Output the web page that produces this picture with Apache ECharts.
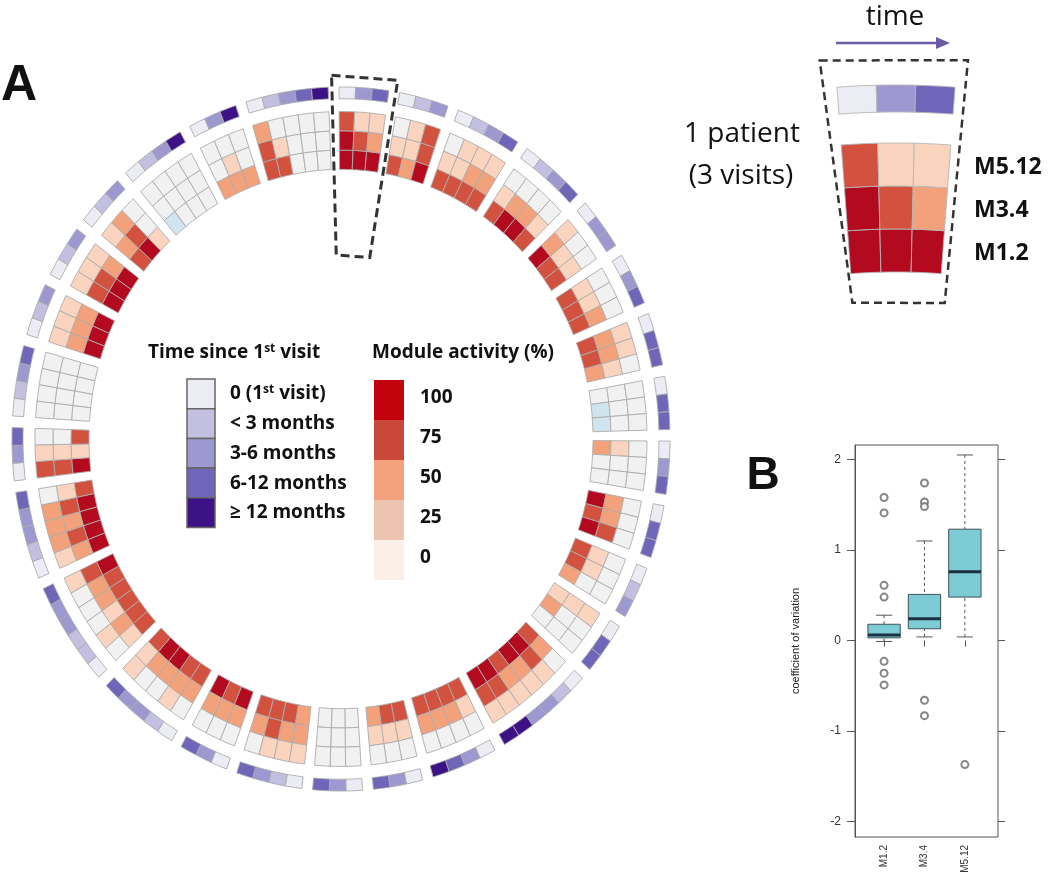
<!DOCTYPE html>
<html><head><meta charset="utf-8">
<script src="https://cdn.jsdelivr.net/npm/echarts@6/dist/echarts.min.js"></script>
<style>html,body{margin:0;padding:0;background:#fff}#c{width:1050px;height:892px}</style>
</head><body><div id="c"></div>
<script>
// ---------------- DATA ----------------
// patients clockwise from 12 o'clock; visits in time order (clockwise)
const patientVisits = [3,3,4,4,3,3,3,3,3,3,3,3,6,4,3,3,4,3,5,6,5,3,4,3,3,3,4,3,5];
// time since first visit category: 0=1st visit,1=<3m,2=3-6m,3=6-12m,4=>=12m
const timeCategory = [
  [0,2,3],[0,1,2],[0,1,2,3],[0,1,2,3],[0,2,2],[0,2,3],[0,3,3],[0,3,3],[0,2,3],[0,3,3],
  [0,1,2],[0,3,3],[0,1,2,2,4,4],[0,2,3,4],[0,2,3],[0,2,3],[0,1,2,3],[0,2,3],[0,1,2,2,3],[0,1,1,2,2,3],
  [0,1,2,2,3],[0,2,3],[0,1,2,3],[0,1,2],[0,1,2],[0,1,2],[0,1,2,4],[0,2,4],[0,1,2,3,4]
];
// module activity (%), negative = below baseline
const actM12 = [
  [100,100,100],[75,50,100],[75,75,75,75],[75,100,100,75],[100,75,75],[75,75,75],[75,75,50],[0,-25,-25],[50,0,0],[100,75,100],
  [75,75,50],[25,50,0],[75,100,100,75,100,100],[75,75,75,75],[75,75,50],[0,0,0],[50,75,75,75],[100,75,100],[75,75,100,100,75],[75,75,75,75,75,100],
  [100,100,100,100,75],[100,25,75],[0,0,0,0],[100,100,100],[100,100,100],[75,100,25],[-25,0,0,0],[50,50,50],[75,75,0,0,0]
];
const actM34 = [
  [100,75,50],[25,25,75],[25,25,50,50],[25,50,50,25],[50,25,25],[25,25,50],[50,50,25],[0,0,0],[25,0,0],[50,50,75],
  [25,25,0],[25,0,0],[50,75,50,50,75,75],[25,50,50,50],[25,25,25],[0,0,0],[50,50,75,50],[50,50,50],[50,50,50,50,25],[25,50,25,50,50,75],
  [50,75,50,75,25],[75,25,0],[0,0,0,0],[50,50,50],[75,75,50],[50,75,0],[0,0,0,0],[0,25,0],[75,25,0,0,0]
];
const actM512 = [
  [75,25,25],[0,25,75],[0,25,25,25],[0,0,0,0],[25,0,0],[0,0,0],[25,25,0],[0,0,0],[0,0,0],[0,0,0],
  [0,0,0],[25,0,0],[0,25,25,25,25,25],[0,0,0,0],[0,0,0],[0,0,0],[25,25,25,0],[0,0,0],[0,25,0,0,25],[0,25,0,0,0,25],
  [25,50,50,50,0],[75,25,0],[0,0,0,0],[25,25,25],[25,25,25],[25,50,0],[0,0,0,0],[0,0,0],[50,0,0,0,0]
];
const moduleNames = ['M1.2','M3.4','M5.12'];
const timeLabels = ['0 (1st visit)','< 3 months','3-6 months','6-12 months','≥ 12 months'];
const activityLevels = [100,75,50,25,0];
const highlightedPatient = 0;
// panel B boxplot: [lower whisker, Q1, median, Q3, upper whisker]
const boxModules = ['M1.2','M3.4','M5.12'];
const boxStats = [[-0.01,0.03,0.06,0.18,0.28],[0.04,0.13,0.24,0.51,1.10],[0.04,0.48,0.76,1.23,2.05]];
const boxOutliers = [[1.58,1.41,0.61,0.48,-0.23,-0.36,-0.49],[1.74,1.53,1.48,-0.66,-0.83],[-1.37]];
const yTicks = [-2,-1,0,1,2];

// ---------------- STYLE / LAYOUT ----------------
const F = '"Open Sans", "Liberation Sans", sans-serif';
const ACT_COL = {'-25':'#cfe4ef','0':'#f1f1f1','25':'#fbd4bf','50':'#f3a17b','75':'#d3513f','100':'#b30a1f'};
const ACT_LEG = {'100':'#c2020c','75':'#c9483a','50':'#f4a27d','25':'#ecc4b0','0':'#fcefe7'};
const TIME_COL = ['#ececf5','#c2bfe1','#9d98cf','#6f65b9','#3e1287'];
const CX = 341, CY = 439, KY = 1.07, RMAX = 340;
const ROW_R = [[252,270],[270,288],[288,306]], TIME_R = [318,329];
const GAP = 0.65;
const totalVisits = patientVisits.reduce((a,b)=>a+b,0);
const CELL = 360/(totalVisits + patientVisits.length*GAP);
const starts = []; {let acc=0; patientVisits.forEach(n=>{starts.push(acc); acc += (n+GAP)*CELL;});}
const I_CX = 896, I_CY = 883, I_RMAX = 900, I_CELL = 2.83;
const I_ROW_R = [[611,654],[654,697],[697,740]], I_TIME_R = [771,798];

const acts = [actM12, actM34, actM512];
const mainData = [];
patientVisits.forEach((n,p)=>{ for(let v=0;v<n;v++){ for(let r=0;r<3;r++) mainData.push([p,v,r,acts[r][p][v]]); mainData.push([p,v,3,timeCategory[p][v]]); }});
const insetData = [];
for(let v=0; v<patientVisits[highlightedPatient]; v++){ for(let r=0;r<3;r++) insetData.push([0,v,r,acts[r][highlightedPatient][v]]); insetData.push([0,v,3,timeCategory[highlightedPatient][v]]); }

function sector(api,a0,a1,r0,r1,ky,n){
  const c = api.coord([0,a0]);
  const pts=[];
  for(let k=0;k<=n;k++) pts.push(api.coord([r1,a0+(a1-a0)*k/n]));
  for(let k=n;k>=0;k--) pts.push(api.coord([r0,a0+(a1-a0)*k/n]));
  return pts.map(p=>[p[0], c[1]+(p[1]-c[1])*ky]);
}
function cellRenderer(startsArr, cell, rowR, timeR, ky, stroke){
  return function(params, api){
    const p=api.value(0), v=api.value(1), row=api.value(2), val=api.value(3);
    const a0 = startsArr[p] + v*cell, a1 = a0 + cell;
    const rr = row<3 ? rowR[row] : timeR;
    const fill = row<3 ? ACT_COL[String(val)] : TIME_COL[val];
    return {type:'polygon', shape:{points: sector(api,a0,a1,rr[0],rr[1],ky,6)},
      style:{fill: fill, stroke: stroke, lineWidth: 0.9}};
  };
}
function boxRender(params, api){
  const x = api.value(0);
  const lo=api.coord([x,api.value(1)]), q1=api.coord([x,api.value(2)]), md=api.coord([x,api.value(3)]),
        q3=api.coord([x,api.value(4)]), hi=api.coord([x,api.value(5)]);
  const bw = api.size([0.8,0])[0], cap = bw/4;
  const ln = (x1,y1,x2,y2,st)=>({type:'line',shape:{x1,y1,x2,y2},style:st});
  const dash = {stroke:'#555',lineWidth:1,lineDash:[3,3]}, solid={stroke:'#555',lineWidth:1};
  return {type:'group', children:[
    ln(hi[0],hi[1],q3[0],q3[1],dash), ln(lo[0],lo[1],q1[0],q1[1],dash),
    ln(hi[0]-cap,hi[1],hi[0]+cap,hi[1],solid), ln(lo[0]-cap,lo[1],lo[0]+cap,lo[1],solid),
    {type:'rect', shape:{x:q3[0]-bw/2,y:q3[1],width:bw,height:q1[1]-q3[1]}, style:{fill:'#7dcbd5',stroke:'#3d5157',lineWidth:1}},
    ln(md[0]-bw/2,md[1],md[0]+bw/2,md[1],{stroke:'#1b3140',lineWidth:3})
  ]};
}
const outlierData = [];
boxOutliers.forEach((arr,i)=>arr.forEach(v=>outlierData.push([i+1,v])));

// ---------------- GRAPHIC (labels / legends) ----------------
const G = [];
const txt = (x,y,text,size,weight,align,extra)=>Object.assign({type:'text',x,y,style:Object.assign({text,fontSize:size,fontWeight:weight,fontFamily:F,fill:'#111',align:align||'left',verticalAlign:'middle'},extra||{})});
G.push(txt(19,86,'A',50,'bold','center',{fontFamily:'"Liberation Sans", Arial, sans-serif'}));
G.push(txt(763,476,'B',46,'bold','center',{fontFamily:'"Liberation Sans", Arial, sans-serif'}));
G.push({type:'text',x:148,y:353,style:{text:'{b|Time since 1}{s|st}{b| visit}',verticalAlign:'middle',
  rich:{b:{fontSize:19,fontWeight:'bold',fontFamily:F,fill:'#111'},s:{fontSize:12,fontWeight:'bold',fontFamily:F,fill:'#111',padding:[0,0,9,0]}}}});
G.push(txt(372,353,'Module activity (%)',19,'bold'));
timeLabels.forEach((t,i)=>{
  G.push({type:'rect',shape:{x:187,y:379+i*29.7,width:28,height:29.7},style:{fill:TIME_COL[i],stroke:'#666',lineWidth:1.5}});
  if(i===0){
    G.push({type:'text',x:230,y:394,style:{text:'{b|0 (1}{s|st}{b| visit)}',verticalAlign:'middle',
      rich:{b:{fontSize:19,fontWeight:'bold',fontFamily:F,fill:'#111'},s:{fontSize:12,fontWeight:'bold',fontFamily:F,fill:'#111',padding:[0,0,9,0]}}}});
  } else G.push(txt(230,394+i*29.7,t,19,'bold'));
});
activityLevels.forEach((lv,i)=>{
  G.push({type:'rect',shape:{x:374,y:380+i*40,width:30,height:40},style:{fill:ACT_LEG[String(lv)],stroke:'none'}});
  G.push(txt(420,398+i*40,String(lv),19,'bold'));
});
G.push(txt(895,17,'time',28,'normal','center'));
G.push({type:'line',shape:{x1:836,y1:43,x2:938,y2:43},style:{stroke:'#6a5aa6',lineWidth:2.5}});
G.push({type:'polygon',shape:{points:[[950,43],[936,37],[936,49]]},style:{fill:'#6a5aa6'}});
G.push(txt(742,134,'1 patient',28,'normal','center'));
G.push(txt(741,176,'(3 visits)',28,'normal','center'));
moduleNames.forEach((m,i)=>G.push(txt(974,253-i*43,m,23,'bold')));

// ---------------- OPTION ----------------
const option = {
  backgroundColor:'#fff',
  animation:false,
  polar:[{center:[CX,CY],radius:RMAX},{center:[I_CX,I_CY],radius:I_RMAX}],
  angleAxis:[
    {polarIndex:0,type:'value',min:0,max:360,startAngle:90.35,clockwise:true,show:false},
    {polarIndex:1,type:'value',min:0,max:360,startAngle:90+1.5*I_CELL,clockwise:true,show:false}
  ],
  radiusAxis:[
    {polarIndex:0,type:'value',min:0,max:RMAX,show:false},
    {polarIndex:1,type:'value',min:0,max:I_RMAX,show:false}
  ],
  grid:{left:855,top:445,width:143,height:392,show:true,borderColor:'#555',borderWidth:1},
  xAxis:{type:'value',min:0.28,max:3.82,splitLine:{show:false},axisLine:{show:false},
    axisTick:{show:true,customValues:[1,2,3],length:6,lineStyle:{color:'#555'}},
    axisLabel:{customValues:[1,2,3],formatter:v=>boxModules[Math.round(v)-1],rotate:90,fontSize:10,color:'#333',margin:8,fontFamily:'"Liberation Sans", Arial'}},
  yAxis:[
    {type:'value',min:-2.17,max:2.16,position:'left',splitLine:{show:false},
     axisLine:{show:true,lineStyle:{color:'#555'}},
     axisTick:{show:true,customValues:yTicks,length:8,lineStyle:{color:'#555'}},
     axisLabel:{customValues:yTicks,fontSize:12,color:'#333',margin:14,fontFamily:'"Liberation Sans", Arial'},
     name:'coefficient of variation',nameLocation:'middle',nameGap:54,
     nameTextStyle:{fontSize:11,color:'#222',fontFamily:'"Liberation Sans", Arial'}},
    {type:'value',min:-2.17,max:2.16,position:'right',splitLine:{show:false},axisLine:{show:false},
     axisTick:{show:true,customValues:yTicks,length:7,lineStyle:{color:'#555'}},axisLabel:{show:false}}
  ],
  graphic:{elements:G},
  series:[
    {type:'custom',coordinateSystem:'polar',polarIndex:0,silent:true,
     renderItem:cellRenderer(starts,CELL,ROW_R,TIME_R,KY,'#ababab'),data:mainData},
    {type:'custom',coordinateSystem:'polar',polarIndex:0,silent:true,
     renderItem:(params,api)=>{
       const p=api.value(0); const ac=starts[p]+patientVisits[p]*CELL/2;
       const c=api.coord([0,0]);
       const pts=[api.coord([340,ac-5.6]),api.coord([340,ac+5.6]),api.coord([172,ac+5.6]),api.coord([172,ac-5.6])].map(q=>[q[0],c[1]+(q[1]-c[1])*KY]);
       return {type:'polygon',shape:{points:pts},style:{fill:'none',stroke:'#333',lineWidth:3,lineDash:[9,5]}};
     },data:[[highlightedPatient,0]]},
    {type:'custom',coordinateSystem:'polar',polarIndex:1,silent:true,
     renderItem:cellRenderer([0],I_CELL,I_ROW_R,I_TIME_R,1,'#b5b5b5'),data:insetData},
    {type:'custom',coordinateSystem:'polar',polarIndex:1,silent:true,
     renderItem:(params,api)=>{
       const ac=patientVisits[highlightedPatient]*I_CELL/2;
       const pts=[api.coord([826,ac-5.3]),api.coord([826,ac+5.0]),api.coord([582,ac+4.8]),api.coord([582,ac-4.3])];
       return {type:'polygon',shape:{points:pts},style:{fill:'none',stroke:'#333',lineWidth:2.5,lineDash:[8,5]}};
     },data:[[0,0]]},
    {type:'custom',xAxisIndex:0,yAxisIndex:0,silent:true,renderItem:boxRender,
     data:boxStats.map((s,i)=>[i+1].concat(s))},
    {type:'scatter',xAxisIndex:0,yAxisIndex:0,silent:true,symbol:'emptyCircle',symbolSize:7,
     itemStyle:{color:'#666',borderWidth:1},data:outlierData}
  ]
};
const chart = echarts.init(document.getElementById('c'));
chart.setOption(option);
</script></body></html>
